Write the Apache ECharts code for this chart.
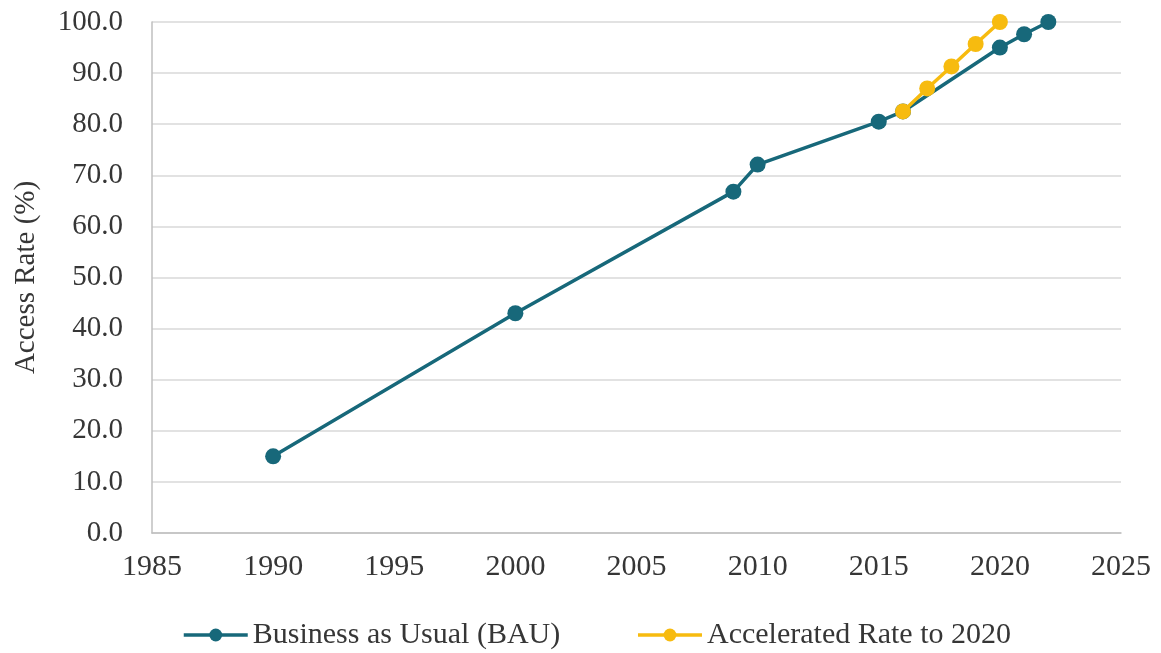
<!DOCTYPE html>
<html>
<head>
<meta charset="utf-8">
<style>
  html, body { margin: 0; padding: 0; background: #ffffff; }
  #chart { width: 1161px; height: 653px; }
</style>
<script src="https://cdn.jsdelivr.net/npm/echarts@6/dist/echarts.min.js"></script>
</head>
<body>
<div id="chart"></div>
<script>
// Electricity access rate, business-as-usual path vs. accelerated path
const bauYears = [1990, 2000, 2009, 2010, 2015, 2016, 2020, 2021, 2022];
const bauValues = [15.0, 43.0, 66.8, 72.1, 80.5, 82.5, 95.0, 97.6, 100.0];
const accYears = [2016, 2017, 2018, 2019, 2020];
const accValues = [82.5, 87.0, 91.3, 95.7, 100.0];
const seriesNames = ['Business as Usual (BAU)', 'Accelerated Rate to 2020'];
const yAxisTitle = 'Access Rate (%)';

const pair = (xs, ys) => xs.map((x, i) => [x, ys[i]]);
const serif = '"Liberation Serif", "DejaVu Serif", serif';
const textColor = '#363636';

const chart = echarts.init(document.getElementById('chart'));
chart.setOption({
  animation: false,
  backgroundColor: '#ffffff',
  grid: { left: 152, right: 40, top: 22, bottom: 120, containLabel: false },
  xAxis: {
    type: 'value', min: 1985, max: 2025, interval: 5,
    axisLine: { show: true, lineStyle: { color: '#bfbfbf', width: 1.5 } },
    axisTick: { show: false },
    splitLine: { show: false },
    axisLabel: {
      color: textColor, fontFamily: serif, fontSize: 30, margin: 19,
      formatter: v => String(v)
    }
  },
  yAxis: {
    type: 'value', min: 0, max: 100, interval: 10,
    name: yAxisTitle, nameLocation: 'middle', nameGap: 111,
    nameTextStyle: { color: textColor, fontFamily: serif, fontSize: 29 },
    axisLine: { show: true, lineStyle: { color: '#bfbfbf', width: 1.5 } },
    axisTick: { show: false },
    splitLine: { show: true, lineStyle: { color: '#d9d9d9', width: 1.5 } },
    axisLabel: {
      color: textColor, fontFamily: serif, fontSize: 29, margin: 29,
      formatter: v => v.toFixed(1)
    }
  },
  legend: {
    top: 615, left: 177, itemGap: 76, itemWidth: 64, itemHeight: 16,
    lineStyle: { width: 3.5 },
    textStyle: { color: textColor, fontFamily: serif, fontSize: 30 },
    data: seriesNames
  },
  series: [
    {
      name: seriesNames[0], type: 'line', data: pair(bauYears, bauValues),
      symbol: 'circle', symbolSize: 16, z: 2,
      lineStyle: { color: '#17687a', width: 3.5 },
      itemStyle: { color: '#17687a' }
    },
    {
      name: seriesNames[1], type: 'line', data: pair(accYears, accValues),
      symbol: 'circle', symbolSize: 16, z: 3,
      lineStyle: { color: '#f7bb0f', width: 3.5 },
      itemStyle: { color: '#f7bb0f' }
    }
  ]
});
</script>
</body>
</html>
